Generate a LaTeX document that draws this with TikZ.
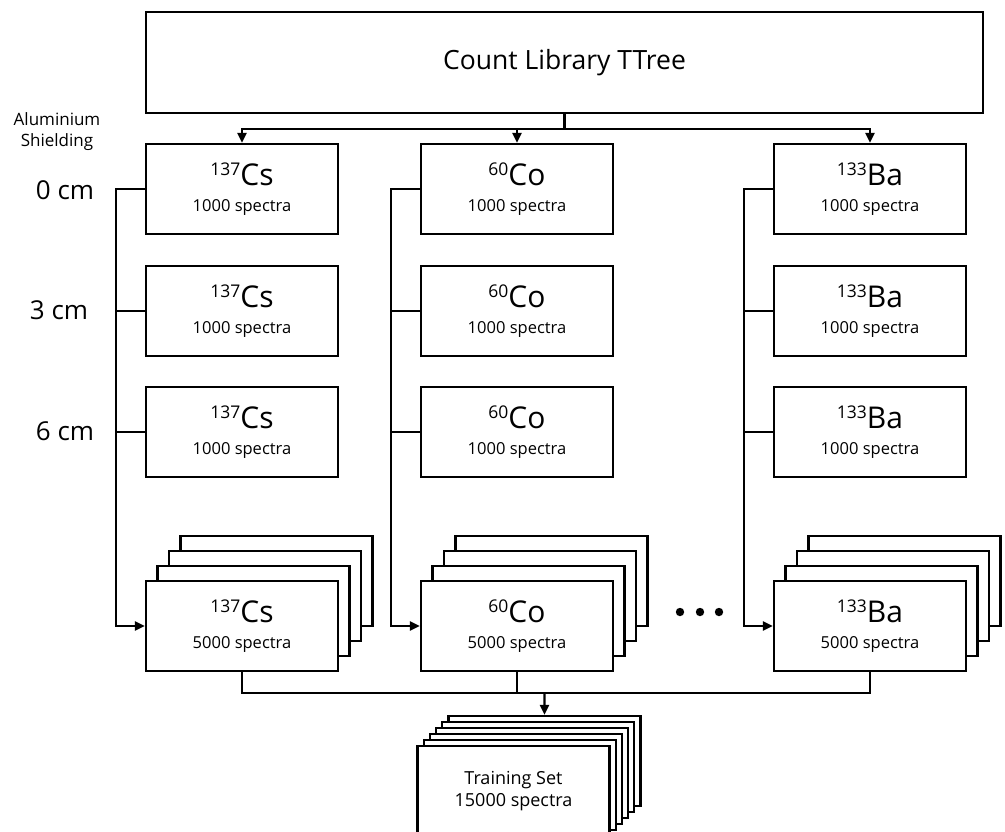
\documentclass[tikz,border=0pt]{standalone}
\usepackage{fontspec}
\setmainfont{Open Sans}
\usetikzlibrary{arrows.meta,calc}
\newcommand{\iso}[3]{{\fontsize{17.5}{17.5}\selectfont\raisebox{9.5pt}{#1}}{\fontsize{30}{30}\selectfont #2}\\{#3 spectra}}
\begin{document}
\begin{tikzpicture}[x=1pt,y=-1pt,line width=2.2pt,line join=miter]
	\useasboundingbox (0,0) rectangle (1005,831);
	\tikzset{box/.style={draw,fill=white,minimum width=192pt,minimum height=90pt,inner sep=0pt,align=center,font=\fontsize{16.5}{26}\selectfont},
		arr/.style={-{Triangle[length=10pt,width=9pt]}}}
	\def\dx{11.5}\def\dy{15}
	\node[draw,minimum width=837pt,minimum height=101pt,font=\fontsize{26.5}{30}\selectfont] (lib) at (564.5,62.5) {Count Library TTree};
	\foreach \c/\xc/\n/\el in {1/242/137/Cs,2/517/60/Co,3/870/133/Ba}{
		\foreach \r/\yr in {1/189,2/311,3/432}{\node[box] (c\c r\r) at (\xc,\yr) {\iso{\n}{\el}{1000}};}
		\foreach \k in {3,2,1}{\node[box] (c\c s\k) at (\xc+\k*\dx,626-\k*\dy) {};}
		\node[box] (c\c s) at (\xc,626) {\iso{\n}{\el}{5000}};
	}
	\coordinate (lt) at ($(lib.south)+(0,15)$);
	\draw (lib.south) -- (lt);
	\foreach \c in {1,2,3}{\draw[arr] (lt) -| (c\c r1.north);}
	\foreach \c in {1,2,3}{
		\coordinate (b\c) at ($(c\c r1.west)+(-29,0)$);
		\draw[arr] (c\c r1.west) -- (b\c) |- (c\c s.west);
		\foreach \r in {2,3}{\draw (b\c |- c\c r\r.west) -- (c\c r\r.west);}
	}
	\foreach \x in {680,700,719}{\fill (\x,612) circle (4.2pt);}
	\coordinate (bt) at (544.5,693);
	\foreach \c in {1,2,3}{\draw (c\c s.south) |- (bt);}
	\foreach \k in {5,4,3,2,1}{\node[box] (ts\k) at (513.5+\k*6.2,791-\k*6) {};}
	\node[box,font=\fontsize{18}{22}\selectfont] (ts) at (513.5,791) {Training Set\\15000 spectra};
	\draw[arr] (bt) -- (ts5.north);
	\node[font=\fontsize{17}{21}\selectfont,align=center] (al) at (57,132) {Aluminium\\Shielding};
	\foreach \t/\xx/\yy in {0/65/190,3/59/310,6/65/431}{\node[font=\fontsize{26}{26}\selectfont] (d\t) at (\xx,\yy) {\t\ cm};}
\end{tikzpicture}
\end{document}
